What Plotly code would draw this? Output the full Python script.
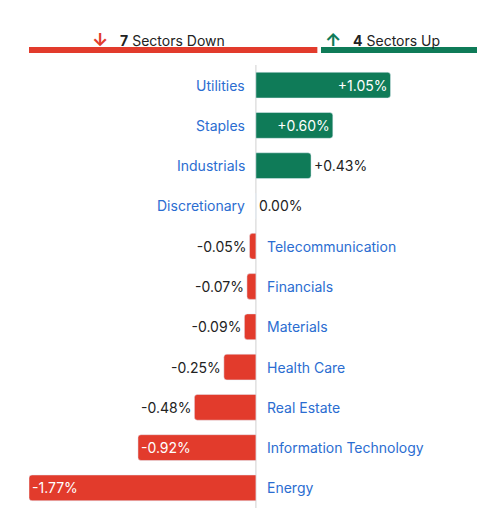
import plotly.graph_objects as go

sectors = ["Utilities", "Staples", "Industrials", "Discretionary", "Telecommunication",
           "Financials", "Materials", "Health Care", "Real Estate",
           "Information Technology", "Energy"]
changes = [1.05, 0.60, 0.43, 0.00, -0.05, -0.07, -0.09, -0.25, -0.48, -0.92, -1.77]

RED = "#e23b2c"
GREEN = "#0f7b58"
BLUE = "#2b6dd1"
FONT = "Inter"

n_down = sum(1 for v in changes if v < 0)
n_up = sum(1 for v in changes if v >= 0)

colors = [GREEN if v >= 0 else RED for v in changes]
inside = [abs(v) >= 0.6 for v in changes]
texts = [("+" if v > 0 else "") + f"{v:.2f}%" for v in changes]

fig = go.Figure()
fig.add_trace(go.Bar(
    x=changes, y=sectors, orientation="h",
    marker=dict(color=colors, cornerradius=3), width=0.64,
    text=texts,
    textposition=["inside" if i else "outside" for i in inside],
    insidetextanchor="end",
    insidetextfont=dict(color="white", size=14, family=FONT),
    outsidetextfont=dict(color="#222", size=14, family=FONT),
    cliponaxis=False, hoverinfo="skip",
))

for name, v in zip(sectors, changes):
    fig.add_annotation(
        x=0, y=name, text=name, showarrow=False,
        xanchor="right" if v >= 0 else "left",
        xshift=-9 if v >= 0 else 9,
        font=dict(color=BLUE, size=14, family=FONT),
    )

# header
fig.add_annotation(xref="paper", yref="paper", x=0.283, y=1.085, showarrow=False,
                   xanchor="center",
                   text=f"<span style='color:{RED};font-size:18px'><b>↓</b></span>   <b>{n_down}</b> Sectors Down",
                   font=dict(size=14, family=FONT, color="#222"))
fig.add_annotation(xref="paper", yref="paper", x=0.776, y=1.085, showarrow=False,
                   xanchor="center",
                   text=f"<span style='color:{GREEN};font-size:18px'><b>↑</b></span>   <b>{n_up}</b> Sectors Up",
                   font=dict(size=14, family=FONT, color="#222"))
split = n_down / (n_down + n_up)
fig.add_shape(type="line", xref="paper", yref="paper", x0=0, x1=split - 0.004,
              y0=1.034, y1=1.034, line=dict(color=RED, width=6))
fig.add_shape(type="line", xref="paper", yref="paper", x0=split + 0.004, x1=1,
              y0=1.034, y1=1.034, line=dict(color=GREEN, width=6))
fig.add_shape(type="line", xref="x", yref="paper", x0=0, x1=0, y0=-0.02, y1=1.0,
              line=dict(color="#d0d0d0", width=1), layer="below")

fig.update_layout(
    width=485, height=508,
    margin=dict(l=21, r=8, t=57, b=8, autoexpand=False),
    plot_bgcolor="white", paper_bgcolor="white",
    showlegend=False,
    font=dict(family=FONT),
    xaxis=dict(range=[-1.77, 1.787], visible=False),
    yaxis=dict(autorange="reversed", visible=False),
)
fig.write_html("out.html")
